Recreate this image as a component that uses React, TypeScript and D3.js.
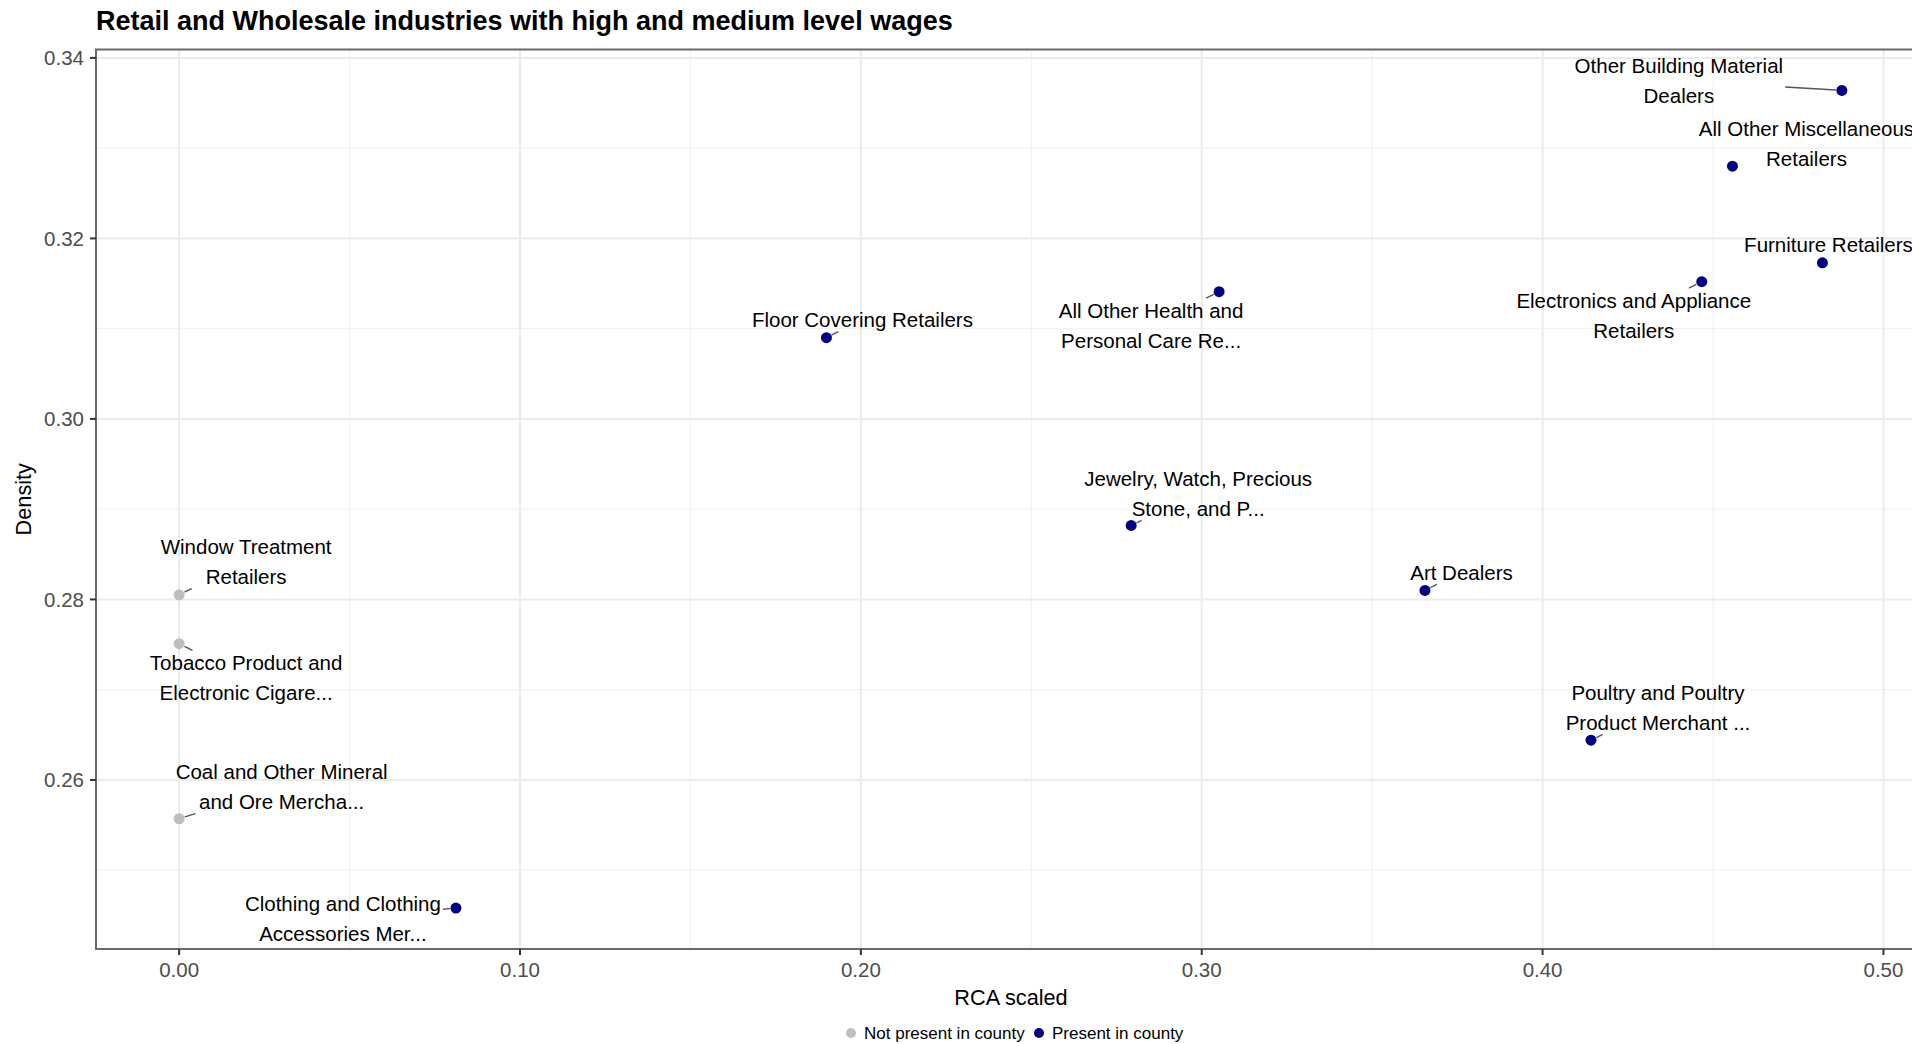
import React, { useEffect, useRef } from "react";
import * as d3 from "d3";

// ---- data ----
const industryLabels = [
  "Other Building Material\nDealers",
  "All Other Miscellaneous\nRetailers",
  "Furniture Retailers",
  "Electronics and Appliance\nRetailers",
  "All Other Health and\nPersonal Care Re...",
  "Floor Covering Retailers",
  "Jewelry, Watch, Precious\nStone, and P...",
  "Art Dealers",
  "Poultry and Poultry\nProduct Merchant ...",
  "Window Treatment\nRetailers",
  "Tobacco Product and\nElectronic Cigare...",
  "Coal and Other Mineral\nand Ore Mercha...",
  "Clothing and Clothing\nAccessories Mer...",
];
const rcaScaled = [0.4878, 0.4557, 0.4821, 0.4467, 0.3051, 0.1899, 0.2793, 0.3655, 0.4142, 0.0, 0.0, 0.0, 0.0812];
const density = [0.3364, 0.328, 0.3173, 0.3152, 0.3141, 0.309, 0.2882, 0.281, 0.2644, 0.2805, 0.2751, 0.2557, 0.2458];
const presence = [
  "Present in county", "Present in county", "Present in county", "Present in county",
  "Present in county", "Present in county", "Present in county", "Present in county",
  "Present in county", "Not present in county", "Not present in county", "Not present in county",
  "Present in county",
];
const xTicks = [0, 0.1, 0.2, 0.3, 0.4, 0.5];
const xMinorTicks = [0.05, 0.15, 0.25, 0.35, 0.45];
const yTicks = [0.26, 0.28, 0.3, 0.32, 0.34];
const yMinorTicks = [0.25, 0.27, 0.29, 0.31, 0.33];
const legendKeys = ["Not present in county", "Present in county"];
const legendColors = ["#bebebe", "#000080"];
const titleText = "Retail and Wholesale industries with high and medium level wages";
const xTitle = "RCA scaled";
const yTitle = "Density";

// ---- layout (repelled label offsets in px from each point) ----
const labelOffsets: [number, number][] = [
  [-163, -9.7], [74, -22.5], [6, -18], [-68, 33.6], [-68, 33.6], [36, -18.3],
  [67, -32.3], [36.5, -18.2], [67, -33], [67, -33.5], [67, 34], [102.5, -32.4], [-113, 10.4],
];

const W = 1912, H = 1044;
const panel = { left: 96, top: 49.5, right: 1925, bottom: 949 };
const FONT = "'Liberation Sans', Arial, Helvetica, sans-serif";

export default function App() {
  const ref = useRef<SVGSVGElement>(null);

  useEffect(() => {
    const svg = d3.select(ref.current);
    svg.selectAll("*").remove();

    const xr = d3.extent(rcaScaled) as [number, number];
    const yr = d3.extent(density) as [number, number];
    const xp = (xr[1] - xr[0]) * 0.05, yp = (yr[1] - yr[0]) * 0.05;
    const x = d3.scaleLinear().domain([xr[0] - xp, xr[1] + xp]).range([panel.left, panel.right]);
    const y = d3.scaleLinear().domain([yr[0] - yp, yr[1] + yp]).range([panel.bottom, panel.top]);
    const color = d3.scaleOrdinal<string, string>().domain(legendKeys).range(legendColors);

    // grid
    const g = svg.append("g");
    g.selectAll(".xminor").data(xMinorTicks).join("line")
      .attr("x1", d => x(d)).attr("x2", d => x(d)).attr("y1", panel.top).attr("y2", panel.bottom)
      .attr("stroke", "#f2f2f2").attr("stroke-width", 1.2);
    g.selectAll(".yminor").data(yMinorTicks).join("line")
      .attr("y1", d => y(d)).attr("y2", d => y(d)).attr("x1", panel.left).attr("x2", panel.right)
      .attr("stroke", "#f2f2f2").attr("stroke-width", 1.2);
    g.selectAll(".xmajor").data(xTicks).join("line")
      .attr("x1", d => x(d)).attr("x2", d => x(d)).attr("y1", panel.top).attr("y2", panel.bottom)
      .attr("stroke", "#ebebeb").attr("stroke-width", 2);
    g.selectAll(".ymajor").data(yTicks).join("line")
      .attr("y1", d => y(d)).attr("y2", d => y(d)).attr("x1", panel.left).attr("x2", panel.right)
      .attr("stroke", "#ebebeb").attr("stroke-width", 2);

    // border
    svg.append("rect").attr("x", panel.left).attr("y", panel.top)
      .attr("width", panel.right - panel.left).attr("height", panel.bottom - panel.top)
      .attr("fill", "none").attr("stroke", "#6a6a6a").attr("stroke-width", 2);

    // ticks
    svg.selectAll(".xt").data(xTicks).join("line")
      .attr("x1", d => x(d)).attr("x2", d => x(d)).attr("y1", panel.bottom).attr("y2", panel.bottom + 6)
      .attr("stroke", "#333").attr("stroke-width", 2);
    svg.selectAll(".xtl").data(xTicks).join("text")
      .attr("x", d => x(d)).attr("y", panel.bottom + 28).attr("text-anchor", "middle")
      .attr("font-family", FONT).attr("font-size", 20.5).attr("fill", "#4d4d4d")
      .text(d => d3.format(".2f")(d));
    svg.selectAll(".yt").data(yTicks).join("line")
      .attr("y1", d => y(d)).attr("y2", d => y(d)).attr("x1", panel.left - 6).attr("x2", panel.left)
      .attr("stroke", "#333").attr("stroke-width", 2);
    svg.selectAll(".ytl").data(yTicks).join("text")
      .attr("x", panel.left - 12).attr("y", d => y(d) + 7.3).attr("text-anchor", "end")
      .attr("font-family", FONT).attr("font-size", 20.5).attr("fill", "#4d4d4d")
      .text(d => d3.format(".2f")(d));

    // axis titles
    svg.append("text").attr("x", 1011).attr("y", 1005).attr("text-anchor", "middle")
      .attr("font-family", FONT).attr("font-size", 21.7).attr("fill", "#000").text(xTitle);
    svg.append("text").attr("transform", `translate(31,${(panel.top + panel.bottom) / 2}) rotate(-90)`)
      .attr("text-anchor", "middle").attr("font-family", FONT).attr("font-size", 21.7)
      .attr("fill", "#000").text(yTitle);

    // title
    svg.append("text").attr("x", panel.left).attr("y", 30)
      .attr("font-family", FONT).attr("font-size", 27).attr("font-weight", "bold")
      .attr("fill", "#000").text(titleText);

    // labels + segments
    const R = 5.5;
    const LH = 30;
    const FS = 20.5;
    const labelLayer = svg.append("g");
    const segLayer = svg.insert("g", () => labelLayer.node());
    industryLabels.forEach((lab, i) => {
      const px = x(rcaScaled[i]), py = y(density[i]);
      const cx = px + labelOffsets[i][0], cy = py + labelOffsets[i][1];
      const lines = lab.split("\n");
      const t = labelLayer.append("text").attr("text-anchor", "middle")
        .attr("font-family", FONT).attr("font-size", FS).attr("fill", "#000");
      lines.forEach((ln, k) => {
        t.append("tspan").attr("x", cx)
          .attr("y", cy - ((lines.length - 1) * LH) / 2 + k * LH + FS * 0.36)
          .text(ln);
      });
      const bb = (t.node() as SVGTextElement).getBBox();
      const pad = 2;
      const x0 = bb.x - pad, x1 = bb.x + bb.width + pad;
      const y0 = cy - ((lines.length - 1) * LH) / 2 - FS * 0.5 - pad;
      const y1 = cy + ((lines.length - 1) * LH) / 2 + FS * 0.5 + pad;
      const inside = px >= x0 && px <= x1 && py >= y0 && py <= y1;
      if (!inside) {
        const dx = px - cx, dy = py - cy;
        const tx = dx > 0 ? (x1 - cx) / dx : dx < 0 ? (x0 - cx) / dx : Infinity;
        const ty = dy > 0 ? (y1 - cy) / dy : dy < 0 ? (y0 - cy) / dy : Infinity;
        const tt = Math.min(tx, ty);
        const sx = cx + tt * dx, sy = cy + tt * dy;
        const len = Math.hypot(px - sx, py - sy);
        const ex = px - ((px - sx) / len) * (R + 0.5), ey = py - ((py - sy) / len) * (R + 0.5);
        if (len - R > 2) {
          segLayer.append("line").attr("x1", sx).attr("y1", sy).attr("x2", ex).attr("y2", ey)
            .attr("stroke", "#555").attr("stroke-width", 1.4);
        }
      }
    });

    // points
    svg.append("g").selectAll("circle").data(rcaScaled.map((v, i) => i)).join("circle")
      .attr("cx", i => x(rcaScaled[i])).attr("cy", i => y(density[i])).attr("r", R)
      .attr("fill", i => color(presence[i]));

    // legend
    const legX = [851, 1039];
    legendKeys.forEach((k, i) => {
      svg.append("circle").attr("cx", legX[i]).attr("cy", 1033).attr("r", 5).attr("fill", color(k));
      svg.append("text").attr("x", legX[i] + 13).attr("y", 1039)
        .attr("font-family", FONT).attr("font-size", 17).attr("fill", "#000").text(k);
    });
  }, []);

  return (
    <svg
      ref={ref}
      width={W}
      height={H}
      style={{ position: "absolute", left: 0, top: 0, background: "#fff", overflow: "hidden" }}
    />
  );
}
